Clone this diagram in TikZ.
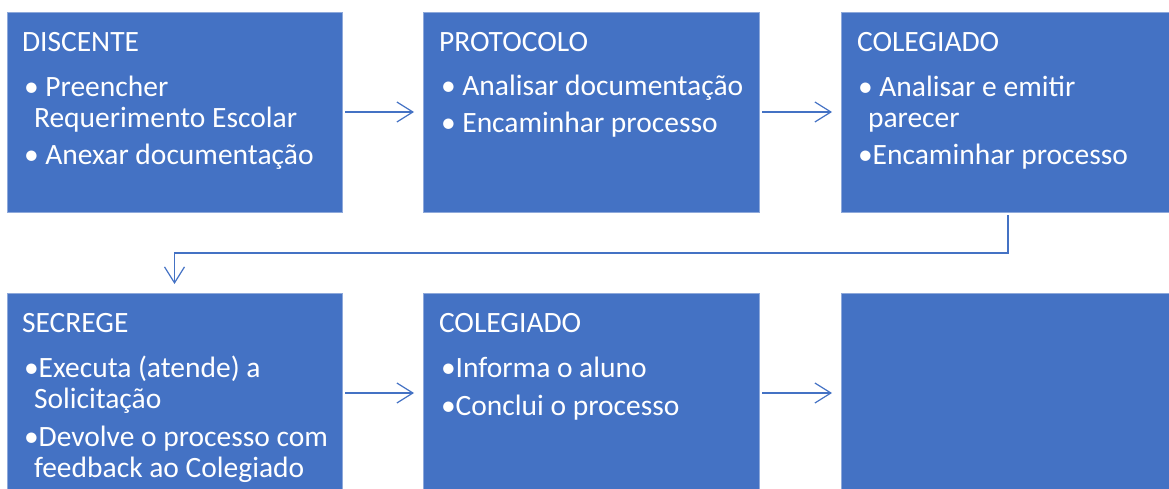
\documentclass[tikz,border=0pt]{standalone}
\usepackage{fontspec}
\setmainfont{Carlito}
\usetikzlibrary{arrows.meta}
\definecolor{boxblue}{HTML}{4472C4}
\definecolor{boxedge}{HTML}{8EA9DB}
\tikzset{
  box/.style={draw=boxedge, line width=0.8pt, fill=boxblue, anchor=north west, minimum width=#1, minimum height=200pt, inner sep=0pt, outer sep=0pt},
  txt/.style={anchor=base west, inner sep=0pt, outer sep=0pt, text=white, font=\fontsize{29.5}{34}\selectfont},
  conn/.style={draw=boxblue, line width=1.2pt, -{Straight Barb[length=16pt,width=20pt,line width=1.2pt]}, shorten <=3pt, shorten >=9pt}
}
\begin{document}
\begin{tikzpicture}[x=1pt,y=-1pt]
\useasboundingbox (0,0) rectangle (1169,489);
\clip (0,0) rectangle (1169,489);
% boxes
\node[box=335pt] (b1) at (7,12) {};
\node[box=336pt] (b2) at (423,12) {};
\node[box=334pt] (b3) at (841,12) {};
\node[box=335pt] (d1) at (7,293) {};
\node[box=336pt] (d2) at (423,293) {};
\node[box=334pt] (d3) at (841,293) {};
% texts box 1
\node[txt] (t1a) at (22,52) {DISCENTE};
\node[txt] (t1b) at (24,97) {• Preencher};
\node[txt] (t1c) at (34,128) {Requerimento Escolar};
\node[txt] (t1d) at (24,165) {• Anexar documentação};
% box 2
\node[txt] (t2a) at (439,52) {PROTOCOLO};
\node[txt] (t2b) at (441,96) {• Analisar documentação};
\node[txt] (t2c) at (441,133) {• Encaminhar processo};
% box 3
\node[txt] (t3a) at (857,52) {COLEGIADO};
\node[txt] (t3b) at (858,97) {• Analisar e emitir};
\node[txt] (t3c) at (868,128) {parecer};
\node[txt] (t3d) at (858,165) {•Encaminhar processo};
% bottom box 1
\node[txt] (u1a) at (22,332) {SECREGE};
\node[txt] (u1b) at (24,377) {•Executa (atende) a};
\node[txt] (u1c) at (34,408) {Solicitação};
\node[txt] (u1d) at (24,446) {•Devolve o processo com};
\node[txt] (u1e) at (34,477) {feedback ao Colegiado};
% bottom box 2
\node[txt] (u2a) at (439,332) {COLEGIADO};
\node[txt] (u2b) at (441,377) {•Informa o aluno};
\node[txt] (u2c) at (441,415) {•Conclui o processo};
% connectors
\draw[conn] (b1.east) -- (b2.west);
\draw[conn] (b2.east) -- (b3.west);
\draw[conn] (d1.east) -- (d2.west);
\draw[conn] (d2.east) -- (d3.west);
\draw[conn] (b3.south) -- ++(0,41) -| (d1.north);
\end{tikzpicture}
\end{document}
